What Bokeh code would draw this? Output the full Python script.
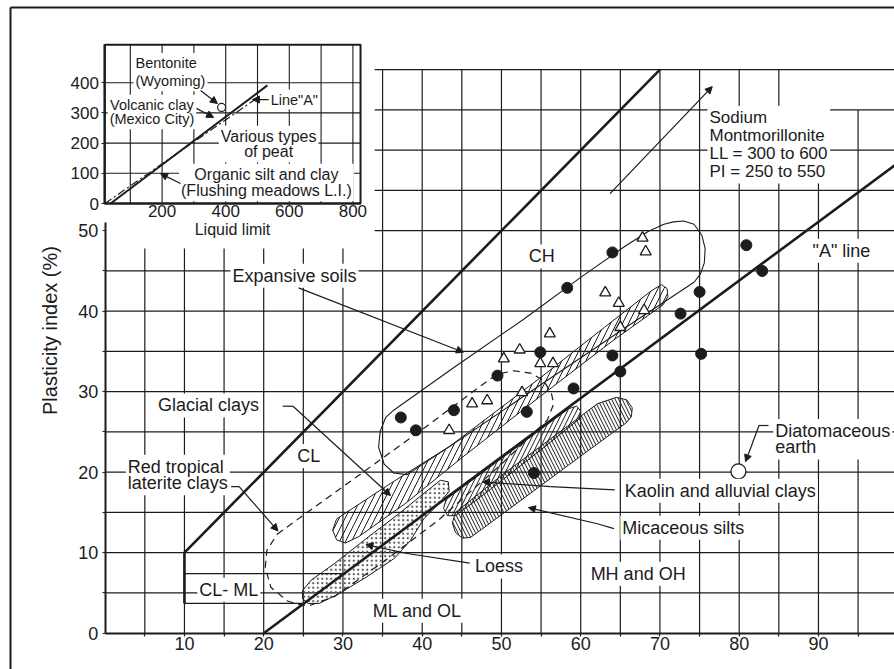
import math
from bokeh.plotting import figure
from bokeh.models import Range1d, LinearAxis, FixedTicker, Arrow, NormalHead
from bokeh.core.properties import value
from bokeh.embed import file_html
from bokeh.resources import INLINE

FONT = value("Liberation Sans")
INK = "#1c1c1c"

# ---------------- data (main chart: LL = liquid limit, PI = plasticity index) ----
x_ticks = [10, 20, 30, 40, 50, 60, 70, 80, 90]
x_minor = [5, 15, 25, 35, 45, 55, 65, 75, 85, 95]
y_ticks = [0, 10, 20, 30, 40, 50]
y_minor = [5, 15, 25, 35, 45]
grid_x = [5, 10, 15, 20, 25, 30, 35, 40, 45, 50, 55, 60, 65, 70, 75, 80, 85, 90, 95]
grid_y = [5, 10, 15, 20, 25, 30, 35, 40, 45, 50, 55, 60, 65, 70]

a_line_ll = [20, 100]
a_line_pi = [0, 58.4]
u_line_ll = [10, 10, 70]
u_line_pi = [3.7, 10, 70]
clml_upper_ll = [10, 30.1]
clml_upper_pi = [7.4, 7.4]
clml_lower_ll = [10, 25.1]
clml_lower_pi = [3.7, 3.7]

dots_ll = [37.3, 39.2, 44.0, 49.5, 53.2, 54.9, 58.3, 64.0, 64.0, 65.0, 59.1, 72.6, 75.0, 75.2, 80.9, 82.9, 54.1]
dots_pi = [26.8, 25.2, 27.7, 32.0, 27.5, 34.9, 42.9, 47.3, 34.5, 32.5, 30.4, 39.7, 42.4, 34.7, 48.2, 45.0, 19.9]
tri_ll = [43.4, 46.3, 48.2, 50.3, 52.3, 52.6, 54.9, 56.5, 56.1, 63.1, 64.8, 65.0, 68.0, 67.8, 68.2]
tri_pi = [25.2, 28.5, 28.9, 34.1, 35.2, 29.9, 33.5, 33.5, 37.2, 42.3, 41.0, 38.0, 40.1, 49.1, 47.4]
diatom_ll = [79.9]
diatom_pi = [20.1]

expansive_ll = [36.4, 44.0, 52.8, 60.0, 65.5, 68.5, 70.5, 71.7, 73.0, 74.3, 75.3, 75.7, 75.6, 75.1, 74.3,
                66.0, 55.0, 45.0, 38.1, 36.4, 35.2, 34.5, 34.7, 35.4, 36.4]
expansive_pi = [27.7, 33.0, 39.0, 44.2, 48.0, 49.9, 50.8, 51.1, 51.2, 50.8, 49.4, 47.8, 46.0, 44.6, 43.6,
                38.2, 30.9, 24.2, 19.7, 19.9, 21.0, 23.1, 25.1, 26.8, 27.7]
glacial_ll = [29.2, 36.0, 43.6, 55.0, 63.0, 69.0, 70.2, 70.9, 71.0, 70.4, 64.0, 55.0, 45.0, 38.0, 32.0,
              30.3, 29.2, 28.7, 29.2]
glacial_pi = [14.2, 18.6, 23.3, 31.8, 38.0, 42.6, 43.3, 42.8, 41.8, 40.8, 36.3, 29.5, 21.8, 16.2, 12.0,
              11.2, 11.6, 12.8, 14.2]
laterite_ll = [21.7, 30.0, 40.0, 47.5, 49.5, 51.6, 53.7, 55.3, 56.3, 56.6, 55.8, 50.0, 42.0, 35.0, 29.0,
               26.0, 24.7, 23.0, 20.9, 20.2, 20.4, 21.7]
laterite_pi = [12.3, 18.2, 25.3, 30.8, 32.2, 32.6, 32.3, 31.4, 29.8, 28.5, 26.5, 21.0, 14.0, 8.8, 4.6,
               3.5, 3.5, 4.0, 5.7, 8.2, 10.3, 12.3]
kaolin_ll = [43.0, 50.0, 58.5, 59.5, 60.0, 59.8, 55.0, 48.0, 44.2, 43.2, 42.7, 43.0]
kaolin_pi = [16.6, 21.7, 27.9, 28.2, 27.6, 26.6, 22.8, 17.4, 14.6, 14.6, 15.5, 16.6]
mica_ll = [44.2, 50.0, 56.0, 62.1, 64.5, 65.8, 66.5, 66.4, 65.7, 60.0, 53.0, 47.5, 46.1, 45.1, 44.2, 43.8, 44.2]
mica_pi = [15.0, 19.6, 24.0, 28.5, 29.3, 29.0, 28.0, 26.9, 26.1, 22.0, 16.9, 12.9, 11.9, 11.8, 12.5, 13.7, 15.0]
loess_ll = [24.9, 26.0, 29.0, 33.0, 37.0, 40.5, 42.3, 43.3, 43.4, 42.0, 40.2, 38.5, 36.5, 33.0, 29.5,
            27.0, 25.6, 24.9]
loess_pi = [5.3, 6.6, 8.7, 11.8, 14.8, 17.6, 19.0, 18.8, 17.6, 16.0, 14.2, 11.5, 9.3, 7.0, 4.9,
            3.7, 3.7, 4.3]

# ---------------- data (inset chart) ----------------
inset_x_ticks = [200, 400, 600, 800]
inset_y_ticks = [0, 100, 200, 300, 400]
inset_grid_x = [100, 200, 300, 400, 500, 600, 700, 800]
inset_grid_y = [100, 200, 300, 400]
inset_box = [20, 824, 0, 526]          # left, right, bottom, top
inset_solid_ll = [38, 531]
inset_solid_pi = [0, 391]
inset_aline_ll = [20, 500]
inset_aline_pi = [0, 350]
bentonite_ll = [387]
bentonite_pi = [318]

# ---------------- page geometry ----------------
W, H = 894, 669
OX, OY = 0, 0               # page position of the canvas
PX0, PXK = 104.7, 7.925     # page x of LL=0, px per LL unit
PY0, PYK = 632.7, 8.05      # page y of PI=0, px per PI unit
IX0, IXK = 98.0, 0.318
IY0, IYK = 203.0, 0.302

xr = Range1d((OX - PX0) / PXK, (OX + W - PX0) / PXK)
yr = Range1d((PY0 - (OY + H)) / PYK, (PY0 - OY) / PYK)

p = figure(width=W, height=H, x_range=xr, y_range=yr, x_axis_type=None, y_axis_type=None,
           toolbar_location=None, output_backend="svg", min_border=0)
p.outline_line_color = None
p.background_fill_color = "white"
p.border_fill_color = "white"
p.extra_x_ranges = {"ix": Range1d((OX - IX0) / IXK, (OX + W - IX0) / IXK)}
p.extra_y_ranges = {"iy": Range1d((IY0 - (OY + H)) / IYK, (IY0 - OY) / IYK)}
INS = dict(x_range_name="ix", y_range_name="iy")

# ---------------- outer frame ----------------
fx = (10 - PX0) / PXK
fy = (PY0 - 7) / PYK
p.line([fx, fx], [yr.start, fy], line_color=INK, line_width=2)
p.line([fx, xr.end], [fy, fy], line_color=INK, line_width=2)

# ---------------- main grid ----------------
vx, vy0, vy1 = [], [], []
for gx in grid_x:
    vx.append(gx)
    vy0.append(0)
    vy1.append(47.8 if gx < 35 else (65 if gx >= 90 else 70))
p.segment(x0=vx, y0=vy0, x1=vx, y1=vy1, line_color=INK, line_width=1.2)
hx0, hy, hx1 = [], [], []
for gy in grid_y:
    hy.append(gy)
    hx0.append(0 if gy < 50 else 34)
    hx1.append(100)
p.segment(x0=hx0, y0=hy, x1=hx1, y1=hy, line_color=INK, line_width=1.2)

# ---------------- zones ----------------
p.patch(loess_ll, loess_pi, fill_color=None, line_color=INK, line_width=1,
        hatch_pattern=".", hatch_color="#555555", hatch_scale=4.5, hatch_weight=0.6)
p.patch(mica_ll, mica_pi, fill_color=None, line_color=INK, line_width=1,
        hatch_pattern="\\", hatch_color=INK, hatch_scale=7, hatch_weight=1)
p.patch(kaolin_ll, kaolin_pi, fill_color=None, line_color=INK, line_width=1,
        hatch_pattern="/", hatch_color=INK, hatch_scale=9, hatch_weight=1)
p.patch(glacial_ll, glacial_pi, fill_color=None, line_color=INK, line_width=1,
        hatch_pattern="/", hatch_color=INK, hatch_scale=12, hatch_weight=1)
p.line(laterite_ll, laterite_pi, line_color=INK, line_width=1.2, line_dash="7 5")
p.line(expansive_ll, expansive_pi, line_color=INK, line_width=1.1)

# ---------------- heavy lines ----------------
p.line(u_line_ll, u_line_pi, line_color=INK, line_width=2.6)
p.line(a_line_ll, a_line_pi, line_color=INK, line_width=2.6)
p.line(clml_upper_ll, clml_upper_pi, line_color=INK, line_width=1.4)
p.line(clml_lower_ll, clml_lower_pi, line_color=INK, line_width=1.4)

# ---------------- points ----------------
p.scatter(dots_ll, dots_pi, marker="circle", size=11, fill_color=INK, line_color=INK)
p.scatter(tri_ll, tri_pi, marker="triangle", size=11, fill_color="white", line_color=INK, line_width=1.3)
p.scatter(diatom_ll, diatom_pi, marker="circle", size=15, fill_color="white", line_color=INK, line_width=1.3)


def leader(xs, ys, **kw):
    if len(xs) > 2:
        p.line(xs[:-1], ys[:-1], line_color=INK, line_width=1.2, **kw)
    p.add_layout(Arrow(x_start=xs[-2], y_start=ys[-2], x_end=xs[-1], y_end=ys[-1],
                       line_color=INK, line_width=1.2,
                       end=NormalHead(size=7, fill_color=INK, line_color=INK, line_width=1), **kw))


leader([24.4, 45.2], [42.9, 34.9])                               # Expansive soils
leader([22.4, 23.7, 36.0], [28.2, 28.2, 17.1])                   # Glacial clays
leader([15.9, 16.9, 21.8], [18.2, 18.2, 12.7])                   # Red tropical
leader([46.0, 38.1, 32.9], [8.7, 9.9, 11.0])                     # Loess
leader([64.3, 56.2, 47.6], [17.8, 18.2, 18.8])                   # Kaolin
leader([64.2, 62.1, 53.4], [13.0, 13.6, 15.6])                   # Micaceous
leader([83.7, 82.5, 80.8], [25.8, 25.8, 21.3])                   # Diatomaceous
leader([63.7, 76.6], [54.6, 67.9])                               # Sodium montmorillonite


def label(xs, ys, texts, align="left", size="18px", lh=1.2, **kw):
    p.text(x=xs, y=ys, text=texts, text_font=FONT, text_font_size=size, text_align=align,
           text_baseline="middle", text_color=INK, text_line_height=lh,
           background_fill_color="white", padding=2, **kw)


label([55.1], [46.8], ["CH"], align="center")
label([25.7], [22.0], ["CL"], align="center")
label([15.6], [5.4], ["CL- ML"], align="center")
label([33.5], [2.8], ["ML and OL"])
label([61.0], [7.4], ["MH and OH"])
label([89.0], [47.5], ['"A" line'])
label([46.4], [8.3], ["Loess"])
label([65.3], [17.7], ["Kaolin and alluvial clays"])
label([65.0], [13.1], ["Micaceous silts"])
label([84.3], [24.1], ["Diatomaceous\nearth"], lh=0.82)
label([6.4], [28.3], ["Glacial clays"])
label([2.6], [19.65], ["Red tropical\nlaterite clays"], lh=0.82)
label([15.8], [44.4], ["Expansive soils"])
label([76.0], [60.7], ["Sodium\nMontmorillonite\nLL = 300 to 600\nPI = 250 to 550"], size="17px", lh=0.96)

# y-axis title
p.text(x=[-7.0], y=[37.6], text=["Plasticity index (%)"], angle=math.pi / 2, text_font=FONT,
       text_font_size="20px", text_align="center", text_baseline="middle", text_color=INK)

# ---------------- main axes ----------------
xa = LinearAxis(fixed_location=0, bounds=(0, 100), ticker=FixedTicker(ticks=x_ticks, minor_ticks=x_minor))
ya = LinearAxis(fixed_location=0, bounds=(0, 51), ticker=FixedTicker(ticks=y_ticks, minor_ticks=y_minor))
for ax in (xa, ya):
    ax.axis_line_width = 2
    ax.axis_line_color = INK
    ax.major_tick_line_color = INK
    ax.minor_tick_line_color = INK
    ax.major_tick_line_width = 1.2
    ax.minor_tick_line_width = 1.2
    ax.major_tick_in = 0
    ax.minor_tick_in = 0
    ax.major_tick_out = 3
    ax.minor_tick_out = 3
    ax.major_label_text_font = "Liberation Sans"
    ax.major_label_text_font_size = "18px"
    ax.major_label_text_color = INK
xa.major_label_standoff = 1
ya.major_label_standoff = 4
p.add_layout(xa, "below")
p.add_layout(ya, "left")

# ---------------- inset ----------------
p.quad(left=[inset_box[0]], right=[inset_box[1]], bottom=[inset_box[2]], top=[inset_box[3]],
       fill_color="white", line_color=INK, line_width=2, **INS)
p.segment(x0=inset_grid_x, y0=[inset_box[2]] * len(inset_grid_x), x1=inset_grid_x,
          y1=[inset_box[3]] * len(inset_grid_x), line_color=INK, line_width=1.1, **INS)
p.segment(x0=[inset_box[0]] * len(inset_grid_y), y0=inset_grid_y, x1=[inset_box[1]] * len(inset_grid_y),
          y1=inset_grid_y, line_color=INK, line_width=1.1, **INS)
p.line(inset_solid_ll, inset_solid_pi, line_color=INK, line_width=2, **INS)
p.line(inset_aline_ll, inset_aline_pi, line_color=INK, line_width=1.2, line_dash="8 3 2 3", **INS)
p.scatter(bentonite_ll, bentonite_pi, marker="circle", size=8, fill_color="white", line_color=INK,
          line_width=1.2, **INS)

leader([321, 374], [374, 331], **INS)
leader([308, 362], [315, 285], **INS)
leader([535, 484], [344, 344], **INS)
leader([258, 195], [66, 99], **INS)

label([110], [435], ["Bentonite\n(Wyoming)"], size="14.5px", lh=1.14, **INS)
label([168], [303], ["Volcanic clay\n(Mexico City)"], align="center", size="14.5px", lh=0.9, **INS)
label([535], [344], ['Line"A"'], size="14.5px", **INS)
label([535], [197], ["Various types\nof peat"], align="center", size="16px", lh=0.92, **INS)
label([528], [69.5], ["Organic silt and clay\n(Flushing meadows L.I.)"], align="center", size="16px",
      lh=0.98, **INS)

ixa = LinearAxis(fixed_location=0, bounds=(inset_box[0], inset_box[1]),
                 ticker=FixedTicker(ticks=inset_x_ticks), axis_label="Liquid limit", **INS)
iya = LinearAxis(fixed_location=inset_box[0], bounds=(inset_box[2], inset_box[3]),
                 ticker=FixedTicker(ticks=inset_y_ticks), **INS)
for ax in (ixa, iya):
    ax.axis_line_width = 2
    ax.axis_line_color = INK
    ax.major_tick_line_color = INK
    ax.major_tick_line_width = 1.1
    ax.major_tick_in = 0
    ax.minor_tick_line_color = None
    ax.major_label_text_font = "Liberation Sans"
    ax.major_label_text_font_size = "17px"
    ax.major_label_text_color = INK
ixa.major_tick_out = 0
ixa.major_label_standoff = 1
ixa.axis_label_standoff = 1
ixa.axis_label_text_font = "Liberation Sans"
ixa.axis_label_text_font_size = "16px"
ixa.axis_label_text_font_style = "normal"
ixa.axis_label_text_color = INK
iya.major_tick_out = 3
iya.major_label_standoff = 3
p.add_layout(ixa, "below")
p.add_layout(iya, "left")

open("out.html", "w").write(file_html(p, INLINE))
